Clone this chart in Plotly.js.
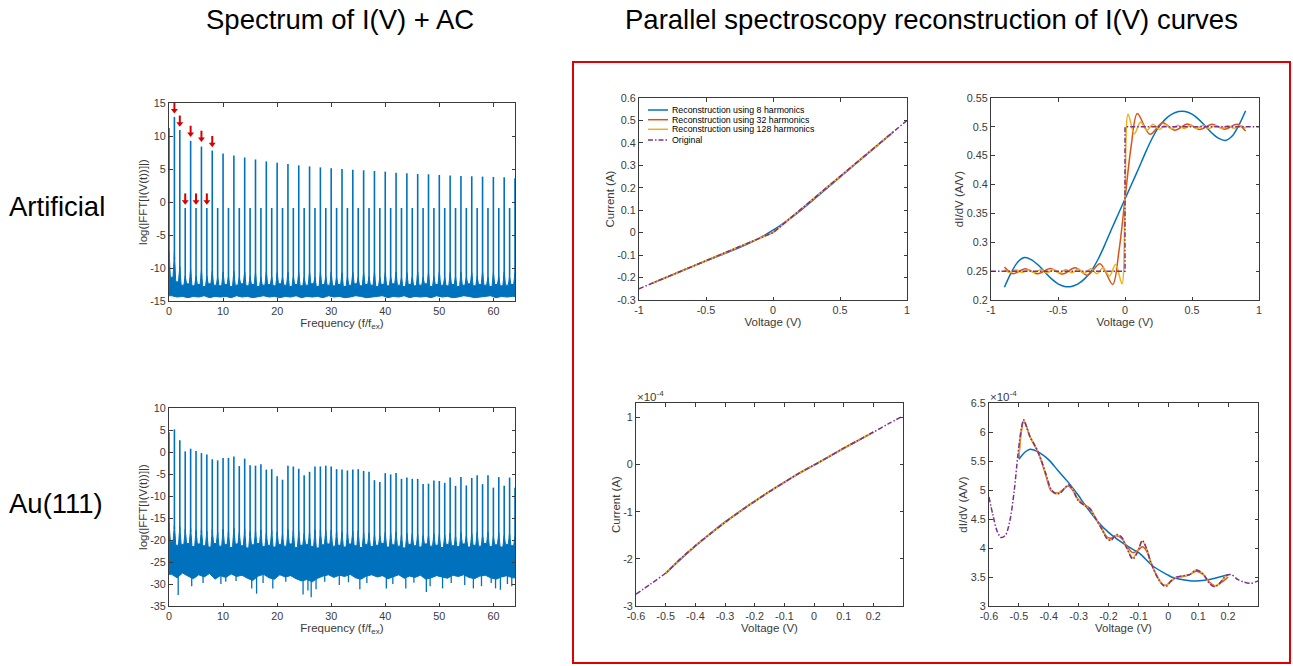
<!DOCTYPE html>
<html><head><meta charset="utf-8">
<script src="https://cdn.plot.ly/plotly-3.0.1.min.js"></script>
<style>html,body{margin:0;padding:0;background:#fff}#chart{width:1293px;height:666px}</style>
</head><body><div id="chart"></div>
<script>
// ---------------- DATA ----------------
const freq = [0,1,2,3,4,5,6,7,8,9,10,11,12,13,14,15,16,17,18,19,20,21,22,23,24,25,26,27,28,29,30,31,32,33,34,35,36,37,38,39,40,41,42,43,44,45,46,47,48,49,50,51,52,53,54,55,56,57,58,59,60,61,62,63,64];

// Artificial spectrum: harmonic peak heights, spike-base heights, noise band (between harmonics)
const artPeak = [11.2,12.9,10.9,-0.9,9.25,-0.9,8.4,-0.9,7.8,-0.9,
  7.35,-0.9,7.05,-0.9,6.75,-0.9,6.45,-0.9,6.15,-0.9,
  5.95,-0.9,5.75,-0.9,5.55,-0.9,5.4,-0.9,5.25,-0.9,
  5.1,-0.9,5.0,-0.9,4.9,-0.9,4.8,-0.9,4.7,-0.9,
  4.6,-0.9,4.45,-0.9,4.35,-0.9,4.25,-0.9,4.2,-0.9,
  4.1,-0.9,4.0,-0.9,3.95,-0.9,3.9,-0.9,3.85,-0.9,
  3.8,-0.9,3.75,-0.9,3.6];
const artSkirt = [-7.4,-7.7,-9.8,-11.2,-10.2,-11.3,-10.4,-11.2,-10.5,-11.4,
  -10.6,-11.3,-10.5,-11.4,-10.6,-11.3,-10.7,-11.4,-10.6,-11.3,
  -10.7,-11.4,-10.6,-11.3,-10.7,-11.4,-10.6,-11.4,-10.7,-11.3,
  -10.6,-11.4,-10.7,-11.3,-10.6,-11.4,-10.7,-11.3,-10.6,-11.4,
  -10.7,-11.3,-10.6,-11.4,-10.7,-11.3,-10.6,-11.4,-10.7,-11.3,
  -10.6,-11.4,-10.7,-11.3,-10.6,-11.4,-10.7,-11.3,-10.6,-11.4,
  -10.7,-11.3,-10.6,-11.4,-10.7];
const artNoiseHi = [-11.4,-12.1,-12.6,-12.4,-12.7,-12.5,-12.8,-12.4,-12.6,-12.7,
  -12.5,-12.8,-12.6,-12.4,-12.7,-12.5,-12.8,-12.6,-12.5,-12.7,
  -12.4,-12.6,-12.8,-12.5,-12.7,-12.6,-12.4,-12.8,-12.5,-12.6,
  -12.7,-12.5,-12.8,-12.6,-12.4,-12.7,-12.5,-12.6,-12.8,-12.5,
  -12.7,-12.4,-12.6,-12.8,-12.5,-12.7,-12.6,-12.4,-12.8,-12.5,
  -12.6,-12.7,-12.5,-12.8,-12.6,-12.4,-12.7,-12.5,-12.6,-12.8,
  -12.5,-12.7,-12.6,-12.5];
const artNoiseLo = [-14.2,-14.4,-14.3,-14.5,-14.3,-14.4,-14.2,-14.5,-14.3,-14.4,
  -14.3,-14.5,-14.2,-14.4,-14.3,-14.5,-14.4,-14.2,-14.4,-14.3,
  -14.5,-14.3,-14.4,-14.2,-14.5,-14.3,-14.4,-14.3,-14.5,-14.2,
  -14.4,-14.3,-14.5,-14.4,-14.2,-14.3,-14.5,-14.4,-14.3,-14.2,
  -14.5,-14.3,-14.4,-14.2,-14.5,-14.3,-14.4,-14.3,-14.5,-14.2,
  -14.4,-14.3,-14.5,-14.4,-14.2,-14.3,-14.5,-14.4,-14.3,-14.2,
  -14.5,-14.3,-14.4,-14.3];
const arrowF = [1,2,4,6,8,3,5,7];
const arrowTip = [13.4,11.4,9.85,9.1,8.3,-0.4,-0.4,-0.4];

// Au(111) spectrum
const auPeak = [4.5,5.15,2.65,0.15,0.75,0.25,-0.25,-0.55,-1.65,-1.9,
  -1.35,-1.35,-1.0,-3.2,-1.5,-3.0,-3.1,-2.8,-4.0,-3.9,
  -5.5,-6.3,-3.1,-3.3,-3.8,-5.3,-4.5,-3.3,-3.3,-3.1,
  -3.3,-3.9,-4.0,-4.2,-4.0,-3.9,-4.3,-4.5,-6.4,-6.8,
  -4.8,-5.1,-4.8,-6.1,-5.8,-6.1,-6.1,-7.3,-7.2,-6.5,
  -6.6,-7.0,-5.8,-7.7,-5.7,-7.6,-5.9,-5.3,-7.3,-5.3,
  -8.1,-5.7,-7.65,-5.8,-8.1];
const auSkirt = [-16.0,-16.5,-17.0,-17.5,-17.2,-17.8,-17.4,-18.0,-17.6,-18.2,
  -17.5,-18.0,-17.3,-18.3,-17.6,-18.1,-17.9,-17.7,-18.4,-17.8,
  -18.2,-18.6,-17.6,-17.8,-18.0,-18.5,-18.2,-17.7,-17.6,-17.8,
  -17.7,-18.0,-18.1,-18.3,-18.0,-17.9,-18.2,-18.4,-18.8,-19.0,
  -18.2,-18.4,-18.1,-18.7,-18.5,-18.6,-18.7,-19.0,-18.9,-18.6,
  -18.7,-18.9,-18.4,-19.1,-18.3,-19.0,-18.5,-18.2,-19.0,-18.2,
  -19.2,-18.4,-19.0,-18.5,-19.2];
const auNoiseHi = [-20.4,-21.2,-21.0,-20.8,-21.5,-20.9,-21.3,-21.6,-20.8,-21.4,
  -21.0,-21.7,-20.9,-21.3,-21.8,-21.1,-20.8,-21.5,-21.2,-21.6,
  -21.0,-21.4,-20.9,-21.7,-21.2,-21.0,-21.5,-21.8,-21.1,-20.9,
  -21.4,-21.2,-21.6,-20.9,-21.3,-21.7,-21.0,-21.5,-21.2,-20.8,
  -21.6,-21.1,-21.4,-21.8,-21.0,-21.3,-21.6,-20.9,-21.4,-21.2,
  -21.7,-21.0,-21.3,-21.5,-20.9,-21.6,-21.2,-21.4,-20.8,-21.5,
  -21.1,-21.6,-21.0,-21.3];
const auNoiseLo = [-27.8,-28.6,-27.5,-28.2,-28.8,-27.9,-28.4,-27.6,-28.9,-28.1,
  -28.5,-27.7,-28.3,-28.0,-28.7,-29.2,-28.2,-27.8,-28.6,-28.9,
  -27.9,-28.4,-28.1,-28.8,-29.3,-29.0,-29.5,-28.7,-28.2,-27.9,
  -28.5,-28.0,-28.3,-27.8,-28.6,-28.9,-28.2,-27.9,-28.4,-28.1,
  -28.8,-28.3,-27.9,-28.7,-28.2,-28.5,-28.0,-28.9,-28.6,-28.1,
  -28.4,-28.7,-28.0,-28.3,-27.9,-28.5,-28.8,-28.2,-28.0,-28.6,
  -28.9,-28.4,-28.1,-28.6];
const auDipF = [1.7,4.2,6.3,9.6,10.5,12.4,15.3,16.2,17.4,19.2,21.6,24.8,25.7,26.3,27.2,28.8,31.5,33.2,35.3,36.6,40.2,41.4,43.8,45.3,47.6,48.3,50.6,52.2,54.7,56.3,57.8,59.6,60.4,61.3,62.6,63.4];
const auDipY = [-32.5,-30.5,-29.8,-30.0,-29.5,-29.3,-31.0,-32.2,-29.8,-31.0,-29.5,-32.4,-31.5,-33.0,-31.2,-29.5,-30.2,-29.6,-31.2,-29.8,-31.0,-30.0,-31.0,-29.7,-31.8,-30.5,-31.0,-29.8,-30.2,-31.0,-30.5,-29.8,-31.0,-31.3,-30.0,-30.5];

// Artificial I(V)
const artV_orig = [-1, 0, 1];
const artI_orig = [-0.25, 0, 0.5];
const artV_rec = [-0.9,-0.7,-0.5,-0.3,-0.2,-0.1,-0.05,0,0.05,0.1,0.2,0.3,0.5,0.7,0.9];
const artI_8   = [-0.225,-0.175,-0.1255,-0.079,-0.053,-0.024,-0.0071,0.011,0.0304,0.051,0.0962,0.146,0.2475,0.349,0.45];
const artI_32  = [-0.225,-0.175,-0.125,-0.075,-0.050,-0.0245,-0.011,0.001,0.0255,0.0505,0.1,0.15,0.25,0.35,0.45];
const artI_128 = [-0.225,-0.175,-0.125,-0.075,-0.050,-0.025,-0.0123,0.0003,0.0252,0.050,0.1,0.15,0.25,0.35,0.45];

// Artificial dI/dV
const artDV_origV = [-1, 0, 0, 1];
const artDV_orig  = [0.25, 0.25, 0.5, 0.5];
const artDV_8V = [-0.9,-0.85,-0.8,-0.75,-0.7,-0.65,-0.6,-0.55,-0.5,-0.45,-0.4,-0.35,-0.3,-0.25,-0.2,-0.15,-0.1,-0.05,0,0.05,0.1,0.15,0.2,0.25,0.3,0.35,0.4,0.45,0.5,0.55,0.6,0.65,0.7,0.75,0.8,0.85,0.9];
const artDV_8 = [0.222,0.247,0.266,0.2735,0.270,0.261,0.249,0.237,0.228,0.2235,0.2235,0.228,0.237,0.251,0.271,0.296,0.323,0.349,0.375,0.401,0.427,0.454,0.479,0.499,0.513,0.522,0.5265,0.5265,0.522,0.513,0.501,0.489,0.480,0.4765,0.484,0.503,0.528];
const artDV_32V = [-0.9,-0.837,-0.744,-0.65,-0.558,-0.465,-0.372,-0.28,-0.186,-0.092,-0.045,0,0.045,0.092,0.186,0.28,0.372,0.465,0.558,0.65,0.744,0.837,0.9];
const artDV_32 = [0.257,0.2455,0.254,0.2455,0.2545,0.245,0.256,0.243,0.263,0.227,0.285,0.375,0.465,0.523,0.487,0.507,0.494,0.505,0.4955,0.5045,0.496,0.5045,0.493];
const artDV_128V = [-0.9,-0.86,-0.814,-0.767,-0.721,-0.674,-0.628,-0.581,-0.535,-0.488,-0.442,-0.395,-0.349,-0.302,-0.256,-0.209,-0.163,-0.116,-0.07,-0.023,0,0.023,0.07,0.116,0.163,0.209,0.256,0.302,0.349,0.395,0.442,0.488,0.535,0.581,0.628,0.674,0.721,0.767,0.814,0.86,0.9];
const artDV_128 = [0.2525,0.2475,0.2525,0.2475,0.2525,0.2475,0.253,0.247,0.253,0.247,0.253,0.247,0.2535,0.2465,0.2545,0.2455,0.256,0.2415,0.262,0.228,0.375,0.522,0.488,0.5085,0.494,0.5045,0.4955,0.5035,0.4965,0.503,0.497,0.503,0.497,0.503,0.497,0.5025,0.4975,0.5025,0.4975,0.5025,0.4975];

// Au(111) I(V)  (units of 1e-4 A)
const auV_orig = [-0.6,-0.55,-0.5,-0.45,-0.4,-0.35,-0.3,-0.25,-0.2,-0.15,-0.1,-0.05,0,0.05,0.1,0.15,0.2,0.25,0.3];
const auI_orig = [-2.75,-2.53,-2.30,-2.00,-1.72,-1.47,-1.225,-0.995,-0.78,-0.57,-0.375,-0.18,-0.01,0.17,0.35,0.52,0.69,0.865,1.035];
const auV_rec = [-0.5,-0.45,-0.4,-0.35,-0.3,-0.25,-0.2,-0.15,-0.1,-0.05,0,0.05,0.1,0.15,0.2];
const auI_8   = [-2.31,-2.01,-1.73,-1.465,-1.215,-0.99,-0.775,-0.568,-0.372,-0.185,-0.005,0.168,0.345,0.516,0.69];
const auI_32  = [-2.30,-2.00,-1.72,-1.47,-1.225,-0.995,-0.78,-0.57,-0.375,-0.18,-0.01,0.17,0.35,0.52,0.69];
const auI_128 = [-2.30,-2.00,-1.72,-1.47,-1.225,-0.995,-0.78,-0.57,-0.375,-0.18,-0.01,0.17,0.35,0.52,0.69];

// Au(111) dI/dV (units of 1e-4 A/V)
const auDV_origV = [-0.6,-0.587,-0.572,-0.559,-0.545,-0.531,-0.516,-0.503,-0.492,-0.484,-0.475,-0.463,-0.45,-0.437,-0.425,-0.408,-0.394,-0.378,-0.364,-0.347,-0.334,-0.319,-0.302,-0.282,-0.263,-0.247,-0.224,-0.205,-0.192,-0.174,-0.157,-0.141,-0.119,-0.102,-0.087,-0.073,-0.057,-0.035,-0.018,-0.007,0.01,0.027,0.049,0.071,0.093,0.115,0.138,0.155,0.171,0.193,0.21,0.232,0.254,0.277,0.294,0.3];
const auDV_orig  = [4.88,4.57,4.28,4.18,4.22,4.45,4.97,5.62,6.05,6.21,6.10,5.92,5.80,5.67,5.51,5.25,5.03,4.94,4.94,5.03,5.09,5.00,4.82,4.74,4.68,4.54,4.34,4.16,4.13,4.23,4.19,4.02,3.81,3.94,4.13,3.99,3.73,3.48,3.36,3.34,3.44,3.50,3.52,3.54,3.62,3.56,3.39,3.33,3.39,3.52,3.54,3.46,3.41,3.39,3.42,3.43];
const auDV_8V = [-0.5,-0.48,-0.465,-0.45,-0.43,-0.4,-0.37,-0.336,-0.3,-0.28,-0.235,-0.2,-0.157,-0.13,-0.097,-0.052,0,0.015,0.06,0.093,0.138,0.193,0.2];
const auDV_8  = [5.53,5.65,5.70,5.69,5.64,5.52,5.34,5.14,4.90,4.75,4.45,4.27,4.10,4.01,3.91,3.69,3.53,3.49,3.445,3.43,3.455,3.53,3.54];
const auDV_32V = [-0.5,-0.492,-0.484,-0.475,-0.463,-0.45,-0.437,-0.425,-0.408,-0.394,-0.378,-0.364,-0.347,-0.334,-0.319,-0.302,-0.282,-0.263,-0.247,-0.224,-0.205,-0.192,-0.174,-0.157,-0.141,-0.119,-0.102,-0.087,-0.073,-0.057,-0.035,-0.018,-0.007,0.01,0.027,0.049,0.071,0.093,0.115,0.138,0.155,0.171,0.2];
const auDV_32  = [5.55,6.00,6.19,6.10,5.92,5.79,5.66,5.50,5.22,5.00,4.95,4.96,5.03,5.07,4.99,4.84,4.75,4.69,4.55,4.35,4.19,4.17,4.21,4.17,4.05,3.92,3.96,4.02,3.95,3.73,3.49,3.37,3.36,3.43,3.49,3.51,3.54,3.60,3.55,3.41,3.35,3.38,3.50];
const auDV_128V = [-0.5,-0.492,-0.484,-0.475,-0.463,-0.45,-0.437,-0.425,-0.408,-0.394,-0.378,-0.364,-0.347,-0.334,-0.319,-0.302,-0.282,-0.263,-0.247,-0.224,-0.205,-0.192,-0.174,-0.157,-0.141,-0.119,-0.102,-0.087,-0.073,-0.057,-0.035,-0.018,-0.007,0.01,0.027,0.049,0.071,0.093,0.115,0.138,0.155,0.171,0.193,0.2];
const auDV_128  = [5.60,6.04,6.20,6.10,5.92,5.80,5.67,5.51,5.24,5.02,4.94,4.95,5.03,5.08,5.00,4.83,4.74,4.68,4.54,4.34,4.17,4.14,4.22,4.19,4.03,3.83,3.95,4.11,3.99,3.73,3.48,3.36,3.35,3.44,3.50,3.52,3.54,3.62,3.56,3.39,3.34,3.39,3.52,3.53];

const legendLabels = ['Reconstruction using 8 harmonics','Reconstruction using 32 harmonics','Reconstruction using 128 harmonics','Original'];
const xTicksSpec = [0,10,20,30,40,50,60];
const yTicksArt = [-15,-10,-5,0,5,10,15];
const yTicksAu = [-35,-30,-25,-20,-15,-10,-5,0,5,10];
const xTicksIV = [-1,-0.5,0,0.5,1];
const yTicksIV = [-0.3,-0.2,-0.1,0,0.1,0.2,0.3,0.4,0.5,0.6];
const yTicksDV = [0.2,0.25,0.3,0.35,0.4,0.45,0.5,0.55];
const xTicksAu = [-0.6,-0.5,-0.4,-0.3,-0.2,-0.1,0,0.1,0.2];
const yTicksAuIV = [-3,-2,-1,0,1];
const yTicksAuDV = [3,3.5,4,4.5,5,5.5,6,6.5];

// ---------------- STYLE / LAYOUT ----------------
const W = 1293, H = 666;
const FONT = 'Liberation Sans, Arial, Helvetica, sans-serif';
const AXC = '#3a3a3a';
const C = {blue:'#0072BD', orange:'#D95319', yellow:'#EDB120', purple:'#7E2F8E', spec:'#0072BD', arrow:'#D40000'};
const DASHDOT = '5px,2px,1.5px,2px';
const px = v => v / W;
const py = v => 1 - v / H;

function axis(x0, x1, range, ticks, title, isY, extra) {
  const a = {
    domain: isY ? [py(x1), py(x0)] : [px(x0), px(x1)],
    range: range, autorange: false,
    tickmode: 'array', tickvals: ticks, ticktext: ticks.map(v => String(v)),
    showline: true, linecolor: AXC, linewidth: 1, mirror: 'ticks',
    ticks: 'inside', ticklen: 3.5, tickcolor: AXC, tickwidth: 1,
    showgrid: false, zeroline: false,
    tickfont: {family: FONT, size: 10.8, color: AXC},
    title: {text: title, font: {family: FONT, size: 11.5, color: AXC}, standoff: isY ? 0 : 2},
    automargin: false
  };
  return Object.assign(a, extra || {});
}

const traces = [];
function spectrum(xa, ya, peak, skirt, hi, lo, dipF, dipY) {
  const bx = [], by = [];
  const d = 0.25;
  for (let i = 0; i < freq.length; i++) {
    if (i > 0) { bx.push(freq[i] - d); by.push(hi[i - 1]); }
    bx.push(freq[i]); by.push(skirt[i]);
    if (i < freq.length - 1) { bx.push(freq[i] + d); by.push(hi[i]); }
  }
  bx.push(freq[freq.length - 1]); by.push(lo[lo.length - 1]);
  for (let i = lo.length - 1; i >= 0; i--) {
    bx.push((freq[i] + freq[i + 1]) / 2); by.push(lo[i]);
  }
  bx.push(freq[0]); by.push(lo[0]);
  traces.push({x: bx, y: by, xaxis: xa, yaxis: ya, type: 'scatter', mode: 'lines', fill: 'toself',
    fillcolor: C.spec, line: {color: C.spec, width: 1}, hoverinfo: 'skip'});
  const sx = [], sy = [];
  for (let i = 0; i < freq.length; i++) {
    sx.push(freq[i], freq[i], null); sy.push(skirt[i] - 1, peak[i], null);
  }
  traces.push({x: sx, y: sy, xaxis: xa, yaxis: ya, type: 'scatter', mode: 'lines',
    line: {color: C.spec, width: 1.6}, hoverinfo: 'skip'});
  if (dipF) {
    const dx = [], dy = [];
    for (let i = 0; i < dipF.length; i++) {
      const k = Math.min(lo.length - 1, Math.floor(dipF[i]));
      dx.push(dipF[i], dipF[i], null); dy.push(lo[k] + 1, dipY[i], null);
    }
    traces.push({x: dx, y: dy, xaxis: xa, yaxis: ya, type: 'scatter', mode: 'lines',
      line: {color: C.spec, width: 1.3}, hoverinfo: 'skip'});
  }
}
spectrum('x', 'y', artPeak, artSkirt, artNoiseHi, artNoiseLo, null, null);
spectrum('x4', 'y4', auPeak, auSkirt, auNoiseHi, auNoiseLo, auDipF, auDipY);

// Red arrows (shaft + head) marking harmonics in the artificial spectrum
(function () {
  const SHAFT = 1.7, HEAD = 0.45; // arrow geometry in data units (style)
  const ax = [], ay = [], hx = [], hy = [];
  for (let i = 0; i < arrowF.length; i++) {
    ax.push(arrowF[i], arrowF[i], null); ay.push(arrowTip[i] + SHAFT, arrowTip[i] + HEAD, null);
    hx.push(arrowF[i]); hy.push(arrowTip[i] + HEAD);
  }
  traces.push({x: ax, y: ay, xaxis: 'x', yaxis: 'y', type: 'scatter', mode: 'lines',
    line: {color: C.arrow, width: 2}, hoverinfo: 'skip', cliponaxis: false});
  traces.push({x: hx, y: hy, xaxis: 'x', yaxis: 'y', type: 'scatter', mode: 'markers',
    marker: {symbol: 'triangle-down', size: 6, color: C.arrow, line: {width: 0}}, hoverinfo: 'skip', cliponaxis: false});
})();

function line(x, y, xa, ya, color, dash, spline) {
  traces.push({x: x, y: y, xaxis: xa, yaxis: ya, type: 'scatter', mode: 'lines', hoverinfo: 'skip',
    line: {color: color, width: 1.5, dash: dash || 'solid', shape: spline ? 'spline' : 'linear', smoothing: 0.9}});
}
line(artV_rec, artI_8, 'x2', 'y2', C.blue, null, true);
line(artV_rec, artI_32, 'x2', 'y2', C.orange, null, true);
line(artV_rec, artI_128, 'x2', 'y2', C.yellow, null, true);
line(artV_orig, artI_orig, 'x2', 'y2', C.purple, DASHDOT, false);
line(artDV_8V, artDV_8, 'x3', 'y3', C.blue, null, true);
line(artDV_32V, artDV_32, 'x3', 'y3', C.orange, null, true);
line(artDV_128V, artDV_128, 'x3', 'y3', C.yellow, null, true);
line(artDV_origV, artDV_orig, 'x3', 'y3', C.purple, DASHDOT, false);
line(auV_rec, auI_8, 'x5', 'y5', C.blue, null, true);
line(auV_rec, auI_32, 'x5', 'y5', C.orange, null, true);
line(auV_rec, auI_128, 'x5', 'y5', C.yellow, null, true);
line(auV_orig, auI_orig, 'x5', 'y5', C.purple, DASHDOT, true);
line(auDV_8V, auDV_8, 'x6', 'y6', C.blue, null, true);
line(auDV_32V, auDV_32, 'x6', 'y6', C.orange, null, true);
line(auDV_128V, auDV_128, 'x6', 'y6', C.yellow, null, true);
line(auDV_origV, auDV_orig, 'x6', 'y6', C.purple, DASHDOT, true);

const specTitleX = 'Frequency (f/f<sub>ex</sub>)';
const specTitleY = 'log(|FFT[I(V(t))]|)';

const layout = {
  width: W, height: H, margin: {l: 0, r: 0, t: 0, b: 0},
  paper_bgcolor: '#fff', plot_bgcolor: '#fff', showlegend: false,
  font: {family: FONT, color: AXC},
  xaxis:  axis(169, 515, [0, 64], xTicksSpec, specTitleX, false, {anchor: 'y'}),
  yaxis:  axis(103, 301, [-15, 15], yTicksArt, specTitleY, true, {anchor: 'x'}),
  xaxis2: axis(639, 907, [-1, 1], xTicksIV, 'Voltage (V)', false, {anchor: 'y2'}),
  yaxis2: axis(98, 300, [-0.3, 0.6], yTicksIV, 'Current (A)', true, {anchor: 'x2'}),
  xaxis3: axis(991, 1259, [-1, 1], xTicksIV, 'Voltage (V)', false, {anchor: 'y3'}),
  yaxis3: axis(98, 300, [0.2, 0.55], yTicksDV, 'dI/dV (A/V)', true, {anchor: 'x3'}),
  xaxis4: axis(169, 515, [0, 64], xTicksSpec, specTitleX, false, {anchor: 'y4'}),
  yaxis4: axis(408, 606, [-35, 10], yTicksAu, specTitleY, true, {anchor: 'x4'}),
  xaxis5: axis(636, 903, [-0.6, 0.3], xTicksAu, 'Voltage (V)', false, {anchor: 'y5'}),
  yaxis5: axis(403, 606, [-3, 1.31], yTicksAuIV, 'Current (A)', true, {anchor: 'x5'}),
  xaxis6: axis(989, 1258, [-0.6, 0.3], xTicksAu, 'Voltage (V)', false, {anchor: 'y6'}),
  yaxis6: axis(403, 606, [3, 6.5], yTicksAuDV, 'dI/dV (A/V)', true, {anchor: 'x6'}),
  shapes: [], annotations: []
};

layout.shapes.push({type: 'rect', xref: 'paper', yref: 'paper', x0: px(573), x1: px(1290), y0: py(663), y1: py(62),
  line: {color: '#E00000', width: 2}, fillcolor: 'rgba(0,0,0,0)'});

const big = {family: FONT, size: 27.5, color: '#000'};
function txt(x, y, t, font, xanchor, yanchor) {
  layout.annotations.push({xref: 'paper', yref: 'paper', x: px(x), y: py(y), text: t, showarrow: false,
    font: font, xanchor: xanchor || 'center', yanchor: yanchor || 'middle'});
}
txt(340, 20, 'Spectrum of I(V) + AC', big);
txt(932, 20, 'Parallel spectroscopy reconstruction of I(V) curves', big);
txt(7, 207, 'Artificial', big, 'left');
txt(7, 503, 'Au(111)', big, 'left');
const expFont = {family: FONT, size: 11.5, color: AXC};
txt(635, 405, '×10<sup>-4</sup>', expFont, 'left', 'bottom');
txt(988, 405, '×10<sup>-4</sup>', expFont, 'left', 'bottom');

const legY = [110, 119.7, 129.3, 140];
const legStyle = [
  {color: C.blue, dash: 'solid'}, {color: C.orange, dash: 'solid'},
  {color: C.yellow, dash: 'solid'}, {color: C.purple, dash: DASHDOT}];
for (let i = 0; i < legendLabels.length; i++) {
  layout.shapes.push({type: 'line', xref: 'paper', yref: 'paper', x0: px(648), x1: px(668), y0: py(legY[i]), y1: py(legY[i]),
    line: {color: legStyle[i].color, width: 1.5, dash: legStyle[i].dash}});
  txt(670, legY[i], legendLabels[i], {family: FONT, size: 8.8, color: '#000'}, 'left', 'middle');
}

Plotly.newPlot('chart', traces, layout, {staticPlot: true, displayModeBar: false});
</script></body></html>
